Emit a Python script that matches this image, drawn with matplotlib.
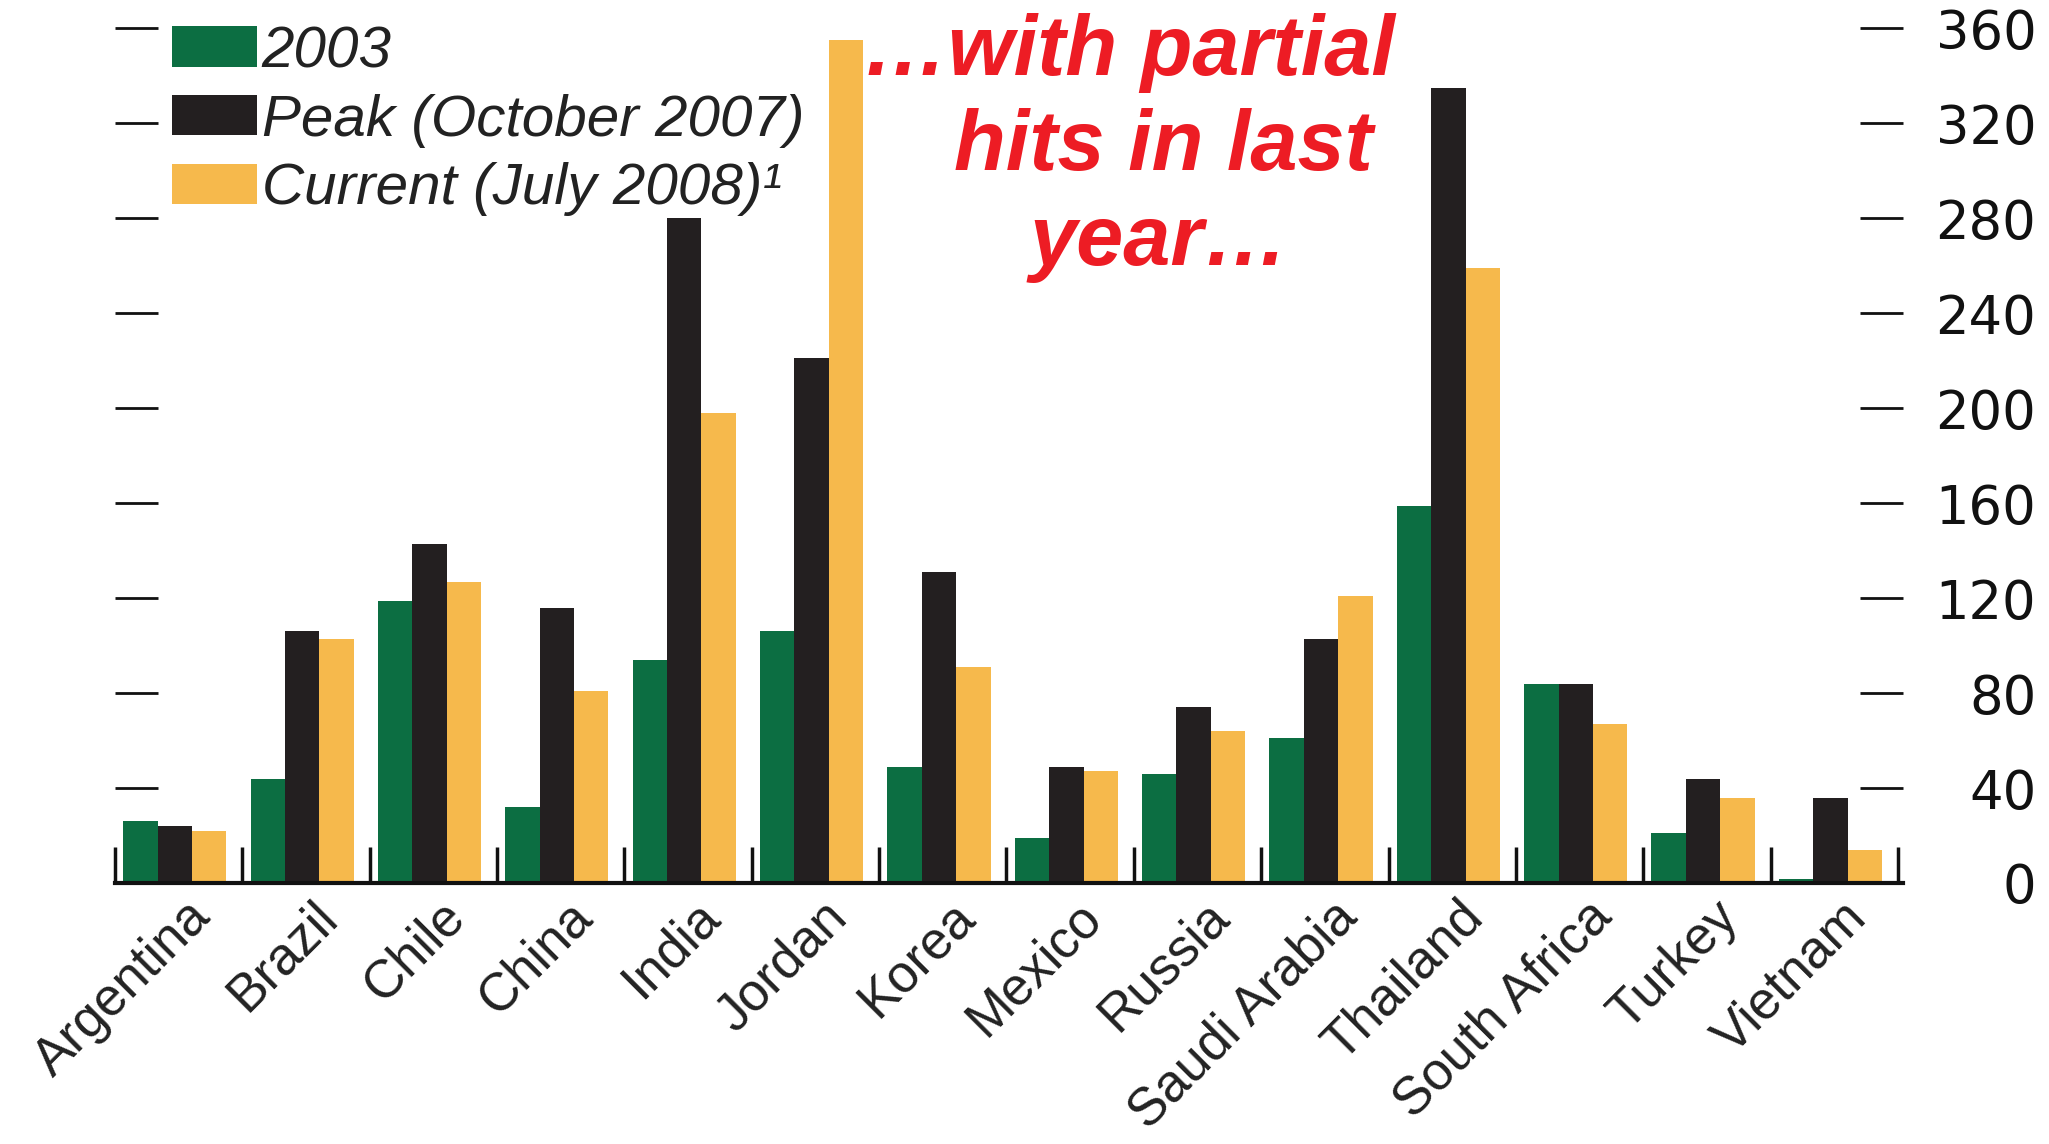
import matplotlib
matplotlib.use("Agg")
import matplotlib.pyplot as plt
import matplotlib.transforms as mtransforms
import numpy as np

countries = ["Argentina", "Brazil", "Chile", "China", "India", "Jordan", "Korea",
             "Mexico", "Russia", "Saudi Arabia", "Thailand", "South Africa", "Turkey", "Vietnam"]
v2003 = [26, 44, 119, 32, 94, 106, 49, 19, 46, 61, 159, 84, 21, 1.5]
peak_oct2007 = [24, 106, 143, 116, 280, 221, 131, 49, 74, 103, 335, 84, 44, 36]
current_jul2008 = [22, 103, 127, 81, 198, 355, 91, 47, 64, 121, 259, 67, 36, 14]
yticks = [0, 40, 80, 120, 160, 200, 240, 280, 320, 360]
legend_labels = ["2003", "Peak (October 2007)", "Current (July 2008)\u00b9"]
annotation_lines = ["\u2026with partial", "hits in last", "year\u2026"]

c_green = "#0c6e42"
c_black = "#231f20"
c_orange = "#f6b94c"
c_red = "#ed1c24"

W, H = 2049, 1144
fig = plt.figure(figsize=(W / 100, H / 100), dpi=100)
ax = fig.add_axes([115 / W, (H - 883) / H, (1903 - 115) / W, 883 / H])

x = np.arange(len(countries))
w = 0.27
ax.bar(x - w, v2003, w, color=c_green, label=legend_labels[0])
ax.bar(x, peak_oct2007, w, color=c_black, label=legend_labels[1])
ax.bar(x + w, current_jul2008, w, color=c_orange, label=legend_labels[2])

ax.set_xlim(-0.456, 13.57)
ax.set_ylim(0, 372)

for s in ["top", "left", "right"]:
    ax.spines[s].set_visible(False)
ax.spines["bottom"].set_linewidth(3)
ax.spines["bottom"].set_color("#111111")

ax.set_yticks(yticks)
ax.tick_params(axis="y", which="major", direction="in", length=31, width=2,
               left=True, right=True, labelleft=False, labelright=True,
               labelsize=38, pad=96, colors="#111111")
for lab in ax.get_yticklabels():
    lab.set_horizontalalignment("right")
    lab.set_fontfamily("DejaVu Sans")

ax.set_xticks(x)
ax.set_xticks(np.arange(len(countries) + 1) - 0.47, minor=True)
ax.tick_params(axis="x", which="major", length=0, pad=4)
ax.tick_params(axis="x", which="minor", direction="in", length=26, width=2.5, color="#111111")
ax.set_xticklabels(countries, rotation=45, ha="right", va="top", rotation_mode="anchor",
                   fontsize=38, fontfamily="Liberation Sans", color="#222222")
offset = mtransforms.ScaledTranslation(0.10, -0.03, fig.dpi_scale_trans)
for lab in ax.get_xticklabels():
    lab.set_transform(lab.get_transform() + offset)

leg = ax.legend(loc="upper left", bbox_to_anchor=((172 - 115) / 1788, 1 - 25 / 883), frameon=False,
                prop={"family": "Liberation Sans", "style": "italic", "size": 42},
                handlelength=1.46, handleheight=0.69, handletextpad=0.08,
                labelspacing=0.25, borderpad=0, borderaxespad=0)
for t in leg.get_texts():
    t.set_color("#222222")

ann_x = [1129, 1163, 1159]
ann_base = [75, 170, 265]
for txt, xx, yy in zip(annotation_lines, ann_x, ann_base):
    fig.text(xx / W, 1 - yy / H, txt, ha="center", va="baseline",
             color=c_red, fontsize=61, fontfamily="Liberation Sans", fontweight="bold",
             fontstyle="italic")

fig.savefig("out.png", dpi=100)
